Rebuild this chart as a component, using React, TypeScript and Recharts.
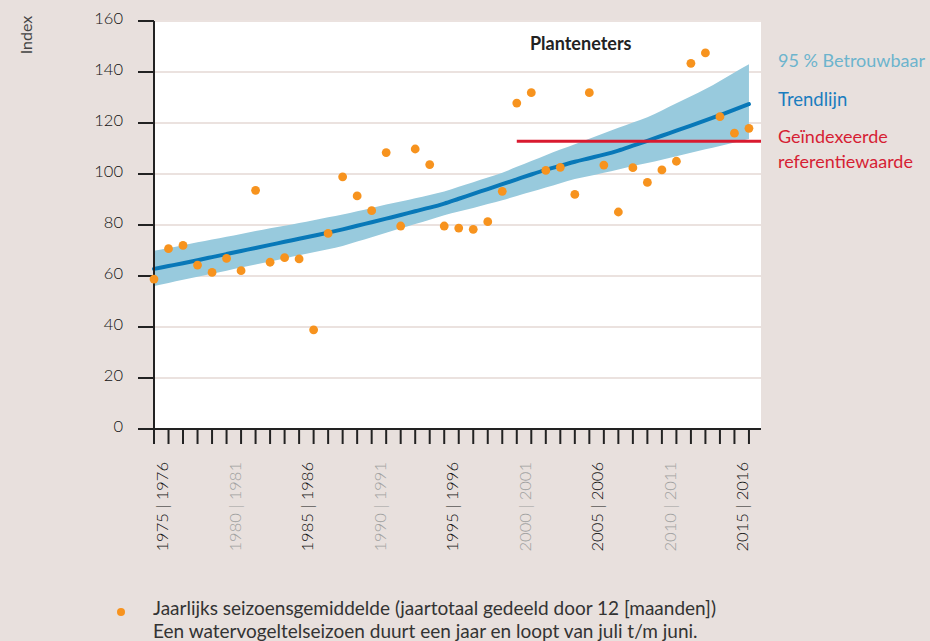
import {
  ComposedChart,
  Area,
  Line,
  XAxis,
  YAxis,
  CartesianGrid,
  ReferenceLine,
} from 'recharts';

// seizoenen 1975|1976 t/m 2016|2017
const seasons = [
  1975, 1976, 1977, 1978, 1979, 1980, 1981, 1982, 1983, 1984, 1985, 1986, 1987, 1988,
  1989, 1990, 1991, 1992, 1993, 1994, 1995, 1996, 1997, 1998, 1999, 2000, 2001, 2002,
  2003, 2004, 2005, 2006, 2007, 2008, 2009, 2010, 2011, 2012, 2013, 2014, 2015, 2016,
];

const seasonIndex = [
  58.8, 70.7, 72.0, 64.3, 61.4, 66.9, 62.1, 93.6, 65.4, 67.2, 66.7, 38.9, 76.7, 98.9,
  91.4, 85.6, 108.4, 79.6, 109.8, 103.7, 79.6, 78.8, 78.3, 81.3, 93.2, 127.8, 131.9, 101.4,
  102.6, 92.0, 131.9, 103.5, 85.1, 102.5, 96.7, 101.6, 105.0, 143.4, 147.5, 122.5, 116.0, 117.9,
];

const trend = [
  62.8, 63.9, 65.0, 66.2, 67.4, 68.6, 69.8, 71.0, 72.2, 73.4, 74.6, 75.8, 77.0, 78.3,
  79.7, 81.1, 82.5, 83.9, 85.4, 86.8, 88.4, 90.3, 92.2, 94.1, 96.0, 97.9, 99.8, 101.6,
  103.2, 104.8, 106.2, 107.6, 109.2, 111.1, 113.0, 115.0, 117.0, 119.0, 121.0, 123.1, 125.2, 127.4,
];

const upper = [
  69.9, 71.0, 72.1, 73.2, 74.3, 75.4, 76.5, 77.6, 78.7, 79.7, 80.8, 81.9, 83.0, 84.1,
  85.4, 86.7, 88.0, 89.2, 90.5, 91.8, 93.1, 95.0, 96.8, 98.6, 100.5, 102.8, 105.1, 107.4,
  109.6, 111.7, 113.8, 116.0, 118.1, 120.2, 122.3, 124.9, 127.7, 130.5, 133.3, 136.5, 139.8, 143.0,
];

const lower = [
  56.1, 57.3, 58.5, 59.7, 60.9, 62.1, 63.3, 64.5, 65.7, 66.9, 68.1, 69.3, 70.5, 71.8,
  73.5, 75.2, 77.0, 78.7, 80.4, 82.1, 83.8, 85.3, 86.7, 88.2, 89.7, 91.4, 93.0, 94.7,
  96.4, 98.0, 99.2, 100.5, 101.8, 103.1, 104.3, 105.6, 107.0, 108.3, 109.7, 111.0, 112.4, 113.7,
];

const referenceValue = 112.8;
const referenceFrom = 2000;

const yTicks = [0, 20, 40, 60, 80, 100, 120, 140, 160];
const labelYears = [1975, 1980, 1985, 1990, 1995, 2000, 2005, 2010, 2015];
const greyYears = [1980, 1990, 2000, 2010];

const rows = seasons.map((year, i) => ({
  year,
  value: seasonIndex[i],
  trend: trend[i],
  band: [lower[i], upper[i]],
}));

const FONT = 'Lato, "Open Sans", sans-serif';
const xMax = 2016.83;

function SeasonTick({ x, y, payload }: any) {
  const year = payload.value;
  if (!labelYears.includes(year)) return <g />;
  const grey = greyYears.includes(year);
  return (
    <g transform={`translate(${x},${y})`}>
      <text
        transform="rotate(-90)"
        x={-16}
        y={14}
        textAnchor="end"
        fill={grey ? '#a0a0a0' : '#111'}
        fontSize={16.5}
        fontWeight={300}
        fontFamily={FONT}
      >
        {`${year} | ${year + 1}`}
      </text>
    </g>
  );
}

function IndexTick({ x, y, payload }: any) {
  return (
    <text
      x={x}
      y={y - 3}
      dy="0.35em"
      textAnchor="end"
      fill="#111"
      fontSize={16.5}
      fontWeight={300}
      fontFamily={FONT}
    >
      {payload.value}
    </text>
  );
}

export default function App() {
  return (
    <div
      style={{
        position: 'absolute',
        left: 0,
        top: 0,
        width: 930,
        height: 641,
        background: '#e8e0dd',
        fontFamily: FONT,
        overflow: 'hidden',
      }}
    >
      <ComposedChart
        width={930}
        height={641}
        data={rows}
        margin={{ top: 21, right: 169, bottom: 72, left: 0 }}
      >
        <CartesianGrid vertical={false} stroke="#ebe2df" strokeWidth={2} fill="#fff" />
        <XAxis
          type="number"
          dataKey="year"
          domain={[1975, xMax]}
          ticks={seasons}
          interval={0}
          height={140}
          tickSize={15}
          tick={<SeasonTick />}
          axisLine={{ stroke: '#222', strokeWidth: 2 }}
          tickLine={{ stroke: '#222', strokeWidth: 2 }}
        />
        <YAxis
          domain={[0, 160]}
          ticks={yTicks}
          width={154}
          tickSize={16}
          tickMargin={15}
          tick={<IndexTick />}
          axisLine={{ stroke: '#222', strokeWidth: 2 }}
          tickLine={{ stroke: '#222', strokeWidth: 2 }}
        />
        <Area
          dataKey="band"
          type="monotone"
          fill="#98cadd"
          fillOpacity={1}
          stroke="none"
          isAnimationActive={false}
        />
        <Line
          dataKey="trend"
          type="monotone"
          stroke="#0878b8"
          strokeWidth={4}
          strokeLinecap="round"
          dot={false}
          isAnimationActive={false}
        />
        <ReferenceLine
          segment={[
            { x: referenceFrom, y: referenceValue },
            { x: xMax, y: referenceValue },
          ]}
          stroke="#d91a2f"
          strokeWidth={3}
        />
        <Line
          dataKey="value"
          stroke="none"
          dot={{ r: 4.4, fill: '#f7931e', stroke: 'none' }}
          activeDot={false}
          isAnimationActive={false}
        />
      </ComposedChart>

      <div
        style={{
          position: 'absolute',
          left: 25,
          top: 35,
          transform: 'translate(-50%, -50%) rotate(-90deg)',
          fontSize: 16,
          color: '#444',
          whiteSpace: 'nowrap',
        }}
      >
        Index
      </div>

      <div style={{ position: 'absolute', left: 530, top: 32, fontSize: 18, fontWeight: 700, color: '#222', lineHeight: '22px' }}>
        Planteneters
      </div>

      <div style={{ position: 'absolute', left: 778, top: 48, fontSize: 18, lineHeight: '24px', color: '#6cb4cd', whiteSpace: 'nowrap' }}>
        95 % Betrouwbaar
      </div>
      <div style={{ position: 'absolute', left: 778, top: 87, fontSize: 18.5, lineHeight: '24px', color: '#1a7dbf' }}>
        Trendlijn
      </div>
      <div style={{ position: 'absolute', left: 778, top: 124, fontSize: 18, lineHeight: '25px', color: '#d61e34', whiteSpace: 'nowrap' }}>
        Geïndexeerde
        <br />
        referentiewaarde
      </div>

      <div
        style={{
          position: 'absolute',
          left: 117,
          top: 608,
          width: 8,
          height: 8,
          borderRadius: 4,
          background: '#f7931e',
        }}
      />
      <div style={{ position: 'absolute', left: 153, top: 596, fontSize: 19, lineHeight: '23px', color: '#333', whiteSpace: 'nowrap' }}>
        Jaarlijks seizoensgemiddelde (jaartotaal gedeeld door 12 [maanden])
        <br />
        Een watervogeltelseizoen duurt een jaar en loopt van juli t/m juni.
      </div>
    </div>
  );
}
